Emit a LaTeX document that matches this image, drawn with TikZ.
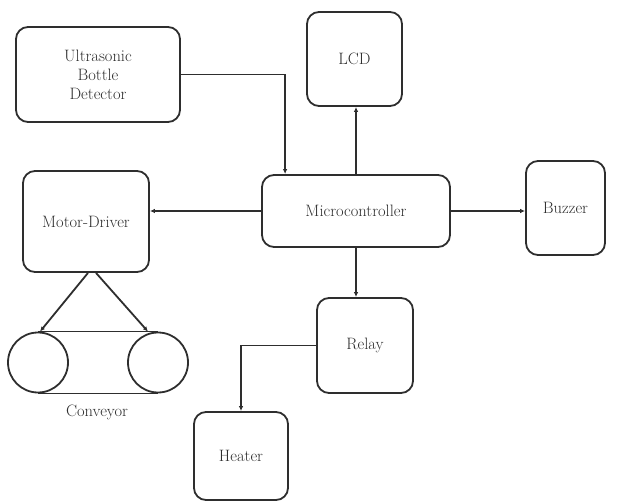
\documentclass[tikz,border=0pt]{standalone}
\usepackage{fontspec}
\usetikzlibrary{calc,arrows.meta}
\definecolor{ink}{HTML}{2E2E2E}
\tikzset{
  blk/.style={draw=ink, line width=1.8pt, rounded corners=12pt, align=center, text=ink,
     font=\rmfamily\fontsize{16.5}{19}\selectfont, inner sep=0pt},
  arr/.style={draw=ink, line width=1.8pt, -{Latex[length=5pt,width=4.5pt]}},
  ln/.style={draw=ink, line width=1.8pt},
  roll/.style={draw=ink, line width=1.8pt, circle, minimum size=60pt, inner sep=0pt}
}
\begin{document}
\begin{tikzpicture}[x=1pt,y=-1pt]
\useasboundingbox (0,0) rectangle (618,502);
\node[blk, minimum width=164pt, minimum height=95pt] (us) at (98,74.5) {Ultrasonic\\Bottle\\Detector};
\node[blk, minimum width=188pt, minimum height=72pt] (micro) at (356,211) {Microcontroller};
\node[blk, minimum width=126pt, minimum height=101pt] (motor) at (86,221.5) {Motor-Driver};
\node[blk, minimum width=95pt, minimum height=94pt] (lcd) at (354.5,59) {LCD};
\node[blk, minimum width=79pt, minimum height=94pt] (buzz) at (565.5,208) {Buzzer};
\node[blk, minimum width=96pt, minimum height=95pt] (relay) at (365,345.5) {Relay};
\node[blk, minimum width=94pt, minimum height=88pt] (heat) at (241,456) {Heater};
\node[roll] (c1) at (38,362.5) {};
\node[roll] (c2) at (158,362.5) {};
\draw[ln] (c1.north) -- (c2.north);
\draw[ln] (c1.south) -- (c2.south);
\node[text=ink, font=\rmfamily\fontsize{16.5}{19}\selectfont] (conv) at (97,412) {Conveyor};
\coordinate (b1) at ($(c1.north)+(2,0)$);
\coordinate (b2) at ($(c2.north)+(-10,0)$);
\draw[arr] (us.east) -| ($(micro.north west)+(24,0)$);
\draw[arr] (micro.north) -- (micro.north |- lcd.south);
\draw[arr] (micro.west) -- (micro.west -| motor.east);
\draw[arr] (micro.east) -- (micro.east -| buzz.west);
\draw[arr] (micro.south) -- (micro.south |- relay.north);
\draw[arr] (relay.west) -| (heat.north);
\draw[arr] ($(motor.south)+(2,0)$) -- (b1);
\draw[arr] ($(motor.south)+(10,0)$) -- (b2);
\end{tikzpicture}
\end{document}
